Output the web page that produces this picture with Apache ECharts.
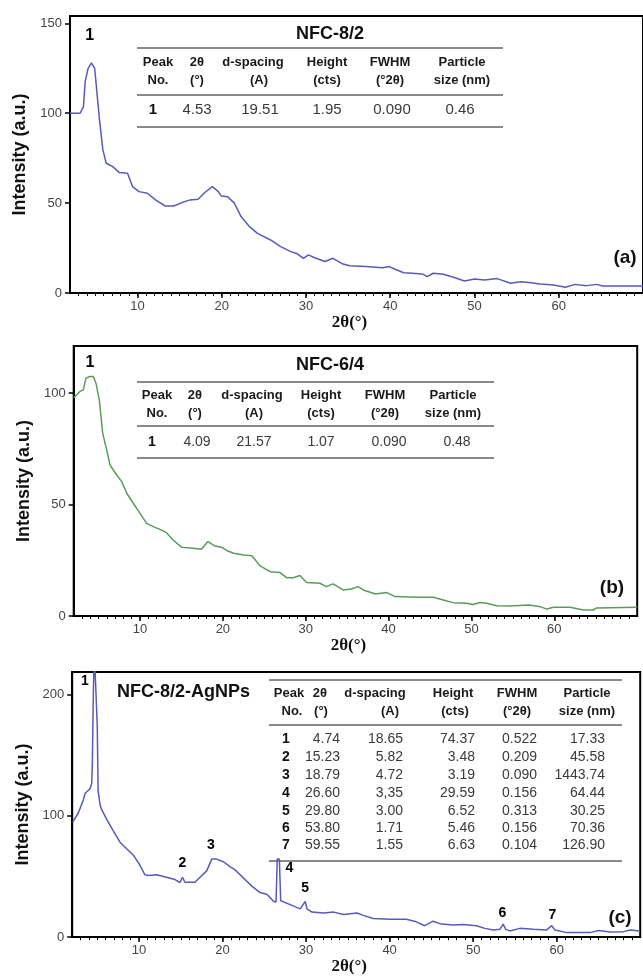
<!DOCTYPE html>
<html>
<head>
<meta charset="utf-8">
<script src="https://cdn.jsdelivr.net/npm/echarts@6/dist/echarts.min.js"></script>
<style>
html,body{margin:0;padding:0;background:#fff;}
#chart{width:643px;height:976px;}
</style>
</head>
<body>
<div id="chart"></div>
<script>
// ---------------- DATA ----------------
// Panel (a) NFC-8/2
var xA = [2.0, 3.2, 3.6, 3.8, 4.15, 4.54, 4.93, 5.13, 5.5, 5.9, 6.3, 7.07, 7.86, 8.83, 9.42, 10.2, 11.17, 12.15, 13.3, 14.3, 15.3, 16.25, 17.2, 18.0, 18.9, 19.6, 19.95, 20.7, 21.5, 22.3, 23.3, 24.25, 25.8, 27.0, 28.2, 28.9, 29.7, 30.3, 30.9, 32.25, 33.2, 34.4, 35.2, 37.1, 39.1, 39.9, 40.6, 41.6, 42.6, 43.8, 44.4, 45.1, 46.3, 47.7, 48.8, 50.0, 51.2, 52.7, 54.3, 55.5, 56.7, 57.8, 59.4, 60.8, 61.9, 63.3, 64.5, 65.2, 70];
var yA = [100, 100, 103.7, 117.7, 125, 128, 125, 114.9, 96.3, 79.6, 72.2, 70.3, 67, 66.6, 59.2, 56.4, 55.5, 51.8, 48.4, 48.4, 50.3, 51.8, 52.2, 55.9, 59.2, 56.4, 54, 53.6, 50, 42.5, 36.9, 33.2, 29.5, 25.8, 23, 22, 19.3, 21.2, 19.9, 17.5, 19.3, 16.1, 15.2, 14.7, 14.1, 14.7, 13.2, 11.3, 11.0, 10.6, 9.1, 11, 10.4, 8.5, 6.7, 7.8, 7.2, 8.0, 5.4, 6.3, 5.7, 5.0, 4.5, 3.2, 4.8, 4.1, 4.8, 3.9, 3.9];
// Panel (b) NFC-6/4
var xB = [2.0, 2.15, 2.76, 3.16, 3.48, 3.96, 4.36, 4.69, 5.09, 5.5, 5.98, 6.38, 7.19, 7.79, 8.4, 9.19, 10.0, 10.8, 11.6, 12.4, 13.2, 14.0, 15.0, 16.4, 17.4, 18.2, 19.05, 19.85, 20.5, 21.3, 22.5, 23.5, 24.5, 25.7, 26.9, 27.7, 28.5, 29.3, 30.1, 31.7, 32.5, 33.3, 34.5, 35.5, 36.3, 36.95, 38.4, 39.8, 40.8, 43.4, 45.4, 46.6, 47.8, 49.4, 50.2, 51.0, 51.8, 53.05, 54.6, 57.0, 58.3, 59.1, 59.9, 61.9, 63.5, 64.7, 65.1, 70];
var yB = [98, 98.5, 100.8, 101.5, 106.8, 107.5, 107.5, 104.5, 97, 82, 74.6, 67.8, 63.3, 60.3, 55.1, 50.6, 46.1, 41.6, 40.1, 38.9, 37.4, 34.1, 30.9, 30.4, 30.0, 33.4, 31.4, 30.9, 29.3, 28.2, 27.4, 27, 22.5, 19.9, 19.5, 17.2, 17.2, 18.2, 15, 14.7, 13.2, 14.4, 11.7, 12.1, 13.2, 11.7, 9.9, 10.5, 8.7, 8.4, 8.4, 7.2, 6.0, 5.7, 5.2, 6.1, 5.7, 4.6, 4.5, 4.9, 4.2, 3.1, 3.9, 3.9, 2.7, 2.7, 3.6, 3.9];
// Panel (c) NFC-8/2-AgNPs
var xC = [2.06, 2.73, 3.33, 3.53, 4.13, 4.33, 4.41, 4.53, 4.65, 4.85, 5.0, 5.1, 5.33, 5.53, 6.13, 6.92, 7.72, 8.52, 9.32, 10.1, 10.7, 11.1, 12.1, 13.3, 14.3, 14.9, 15.2, 15.5, 16.7, 17.3, 18.1, 18.7, 19.3, 20.1, 20.9, 21.5, 22.5, 23.5, 24.5, 25.3, 26.1, 26.4, 26.55, 26.8, 26.96, 28.1, 29.3, 29.9, 30.1, 30.7, 32.1, 33.3, 34.5, 36.1, 36.85, 38.05, 40.05, 42.0, 43.2, 44.2, 45.2, 46.2, 47.6, 48.8, 50.4, 51.4, 52.4, 53.2, 53.6, 53.9, 54.4, 55.6, 57.2, 58.8, 59.4, 59.8, 61.2, 64.0, 65.0, 66.4, 68.0, 68.8, 70];
var yC = [94.8, 102.3, 113, 118.3, 122.3, 126.3, 142.4, 201, 235, 235, 174.5, 121, 109, 105, 97, 87.6, 78.2, 72.8, 67.5, 59.4, 51.4, 50.8, 51.4, 49.3, 47.4, 45, 49.3, 45.2, 45.2, 49.3, 54.6, 64.3, 64.3, 62.1, 58.1, 55.4, 48.7, 42, 36.7, 35.3, 29.5, 28.8, 64.3, 64.3, 30, 26.8, 23.3, 29.5, 23.3, 20.6, 19.8, 20.6, 18.7, 19.8, 17.9, 15.3, 14.7, 14.7, 12.6, 9.4, 13.1, 10.7, 9.9, 10.4, 9.4, 7.2, 5.9, 6.4, 10.7, 6.4, 5.1, 7.2, 6.4, 5.9, 9.4, 5.9, 3.7, 3.7, 5.4, 4.3, 4.5, 5.9, 5];

// peak number labels (data coordinates)
var peakTextA = ['1'], peakXA = [4.34], peakYA = [143];
var peakTextB = ['1'], peakXB = [3.97], peakYB = [113.6];
var peakTextC = ['1', '2', '3', '4', '5', '6', '7'];
var peakXC = [3.53, 15.2, 18.6, 28.0, 29.9, 53.5, 59.5];
var peakYC = [210.7, 61, 75.5, 57, 40.7, 19.8, 17.9];

// axis ticks
var xTicks = [10, 20, 30, 40, 50, 60];
var xMinorTicks = [];
for (var t = 3; t <= 69; t++) xMinorTicks.push(t);
var yTicksA = [0, 50, 100, 150];
var yTicksB = [0, 50, 100];
var yTicksC = [0, 100, 200];

// tables
var tableHead1 = ['Peak', '2θ', 'd-spacing', 'Height', 'FWHM', 'Particle'];
var tableHead2 = ['No.', '(°)', '(A)', '(cts)', '(°2θ)', 'size (nm)'];
var titleA = 'NFC-8/2', titleB = 'NFC-6/4', titleC = 'NFC-8/2-AgNPs';
var rowsA = [['1', '4.53', '19.51', '1.95', '0.090', '0.46']];
var rowsB = [['1', '4.09', '21.57', '1.07', '0.090', '0.48']];
var rowsC = [
  ['1', '4.74', '18.65', '74.37', '0.522', '17.33'],
  ['2', '15.23', '5.82', '3.48', '0.209', '45.58'],
  ['3', '18.79', '4.72', '3.19', '0.090', '1443.74'],
  ['4', '26.60', '3,35', '29.59', '0.156', '64.44'],
  ['5', '29.80', '3.00', '6.52', '0.313', '30.25'],
  ['6', '53.80', '1.71', '5.46', '0.156', '70.36'],
  ['7', '59.55', '1.55', '6.63', '0.104', '126.90']
];
var panelTags = ['(a)', '(b)', '(c)'];

// ---------------- CHART ----------------
var FONT = 'Liberation Sans, Arial, sans-serif';
var BLUE = '#5a5ab8', GREEN = '#5c9a5c';

function zip(xs, ys) { var o = []; for (var i = 0; i < xs.length; i++) o.push([xs[i], ys[i]]); return o; }
function labelData(xs, ys, ts) { var o = []; for (var i = 0; i < xs.length; i++) o.push({ value: [xs[i], ys[i]], name: ts[i] }); return o; }

function xMajor(g) {
  return {
    type: 'value', gridIndex: g, min: 2, max: 70, position: 'bottom',
    axisLine: { show: true, onZero: false, lineStyle: { color: '#000', width: 2 } },
    axisTick: { show: true, length: 5, customValues: xTicks, lineStyle: { color: '#000', width: 1.5 } },
    axisLabel: { show: true, customValues: xTicks, color: '#444', fontSize: 13, margin: 7, fontFamily: FONT },
    splitLine: { show: false },
    name: '2θ(°)', nameLocation: 'middle', nameGap: 11,
    nameTextStyle: { fontFamily: 'Liberation Serif, serif', fontWeight: 'bold', fontSize: 17, color: '#111', padding: [0, 14, 0, 0] }
  };
}
function xMinor(g) {
  return {
    type: 'value', gridIndex: g, min: 2, max: 70, position: 'bottom',
    axisLine: { show: false, onZero: false },
    axisTick: { show: true, length: 3, customValues: xMinorTicks, lineStyle: { color: '#000', width: 1 } },
    axisLabel: { show: false }, splitLine: { show: false }
  };
}
function yAx(g, max, ticks, gap) {
  return {
    type: 'value', gridIndex: g, min: 0, max: max,
    axisLine: { show: true, onZero: false, lineStyle: { color: '#000', width: 2 } },
    axisTick: { show: true, length: 5, customValues: ticks, lineStyle: { color: '#000', width: 1.5 } },
    axisLabel: { show: true, customValues: ticks, color: '#444', fontSize: 13, margin: 8, fontFamily: FONT },
    splitLine: { show: false },
    name: 'Intensity (a.u.)', nameLocation: 'middle', nameGap: gap, nameRotate: 90,
    nameTextStyle: { fontFamily: FONT, fontWeight: 'bold', fontSize: 18, color: '#111' }
  };
}
function lineSeries(xi, yi, data, color) {
  return {
    type: 'line', xAxisIndex: xi, yAxisIndex: yi, data: data, showSymbol: false, symbol: 'none',
    lineStyle: { color: color, width: 1.5 }, clip: true, silent: true
  };
}
function peakSeries(xi, yi, data, size) {
  return {
    type: 'scatter', xAxisIndex: xi, yAxisIndex: yi, data: data, symbolSize: 0,
    itemStyle: { color: '#000' }, silent: true,
    label: { show: true, position: 'inside', formatter: '{b}', color: '#000', opacity: 1,
             textBorderWidth: 0, fontWeight: 'bold', fontSize: size, fontFamily: FONT }
  };
}

// ---- table graphics ----
var G = [];
function txt(x, y, s, font, fill, align) {
  G.push({ type: 'text', x: x, y: y, silent: true,
    style: { text: s, font: font, fill: fill || '#111', align: align || 'center', verticalAlign: 'middle',
             textAlign: align || 'center', textVerticalAlign: 'middle' } });
}
function rule(x1, x2, y) {
  G.push({ type: 'line', silent: true, shape: { x1: x1, y1: y, x2: x2, y2: y }, style: { stroke: '#8a8a8a', lineWidth: 2 } });
}
var HF = 'bold 13px ' + FONT;
// table (a)
txt(330, 34, titleA, 'bold 18px ' + FONT);
rule(137, 503, 48); rule(137, 503, 95); rule(137, 503, 127);
var hxA = [158, 197, 253, 327, 390, 462];
for (var i = 0; i < 6; i++) { txt(hxA[i], 62, tableHead1[i], HF, '#1a1a1a'); txt(hxA[i] + (i === 2 ? 6 : 0), 80, tableHead2[i], HF, '#1a1a1a'); }
var dxA = [153, 197, 260, 327, 392, 460];
for (var i = 0; i < 6; i++) txt(dxA[i], 110, rowsA[0][i], (i === 0 ? 'bold ' : '') + '15px ' + FONT, i === 0 ? '#111' : '#3a3a3a');
// table (b)
txt(330, 365, titleB, 'bold 18px ' + FONT);
rule(137, 494, 382); rule(137, 494, 426); rule(137, 494, 458);
var hxB = [157, 195, 252, 321, 385, 453];
for (var i = 0; i < 6; i++) { txt(hxB[i], 395, tableHead1[i], HF, '#1a1a1a'); txt(hxB[i] + (i === 2 ? 2 : 0), 413, tableHead2[i], HF, '#1a1a1a'); }
var dxB = [152, 197, 254, 321, 389, 457];
for (var i = 0; i < 6; i++) txt(dxB[i], 442, rowsB[0][i], (i === 0 ? 'bold ' : '') + '14px ' + FONT, i === 0 ? '#111' : '#3a3a3a');
// table (c)
txt(117, 692, titleC, 'bold 18px ' + FONT, '#111', 'left');
rule(269, 622, 680); rule(269, 622, 725); rule(269, 622, 861);
var hxC = [289, 320, 375, 453, 517, 587];
var hx2C = [292, 321, 390, 455, 517, 587];
for (var i = 0; i < 6; i++) { txt(hxC[i], 693, tableHead1[i], HF, '#1a1a1a'); txt(hx2C[i], 711, tableHead2[i], HF, '#1a1a1a'); }
var rowYC = [739, 757, 775, 793, 811, 828, 845];
var dxC = [286, 340, 403, 475, 537, 605];
for (var r = 0; r < rowsC.length; r++) {
  for (var i = 0; i < 6; i++) {
    txt(dxC[i], rowYC[r], rowsC[r][i], (i === 0 ? 'bold ' : '') + '14px ' + FONT, i === 0 ? '#111' : '#3a3a3a', i === 0 ? 'center' : 'right');
  }
}
// panel tags
txt(625, 258, panelTags[0], 'bold 19px ' + FONT);
txt(612, 588, panelTags[1], 'bold 19px ' + FONT);
txt(620, 918, panelTags[2], 'bold 19px ' + FONT);

var option = {
  animation: false,
  backgroundColor: '#fff',
  grid: [
    { left: 70, top: 16, width: 580.7, height: 277, show: true, borderColor: '#000', borderWidth: 2, containLabel: false },
    { left: 73.7, top: 346, width: 563.5, height: 270, show: true, borderColor: '#000', borderWidth: 2, containLabel: false },
    { left: 72.2, top: 672, width: 568, height: 272, show: true, borderColor: '#000', borderWidth: 2, containLabel: false }
  ],
  xAxis: [xMajor(0), xMinor(0), xMajor(1), xMinor(1), xMajor(2), xMinor(2)],
  yAxis: [yAx(0, 154.1, yTicksA, 40), yAx(1, 121.2, yTicksB, 34), yAx(2, 218.5, yTicksC, 38)],
  series: [
    lineSeries(0, 0, zip(xA, yA), BLUE),
    lineSeries(2, 1, zip(xB, yB), GREEN),
    lineSeries(4, 2, zip(xC, yC), BLUE),
    peakSeries(0, 0, labelData(peakXA, peakYA, peakTextA), 16),
    peakSeries(2, 1, labelData(peakXB, peakYB, peakTextB), 16),
    peakSeries(4, 2, labelData(peakXC, peakYC, peakTextC), 14)
  ],
  graphic: G
};
var chart = echarts.init(document.getElementById('chart'), null, { renderer: 'canvas' });
chart.setOption(option);
</script>
</body>
</html>
